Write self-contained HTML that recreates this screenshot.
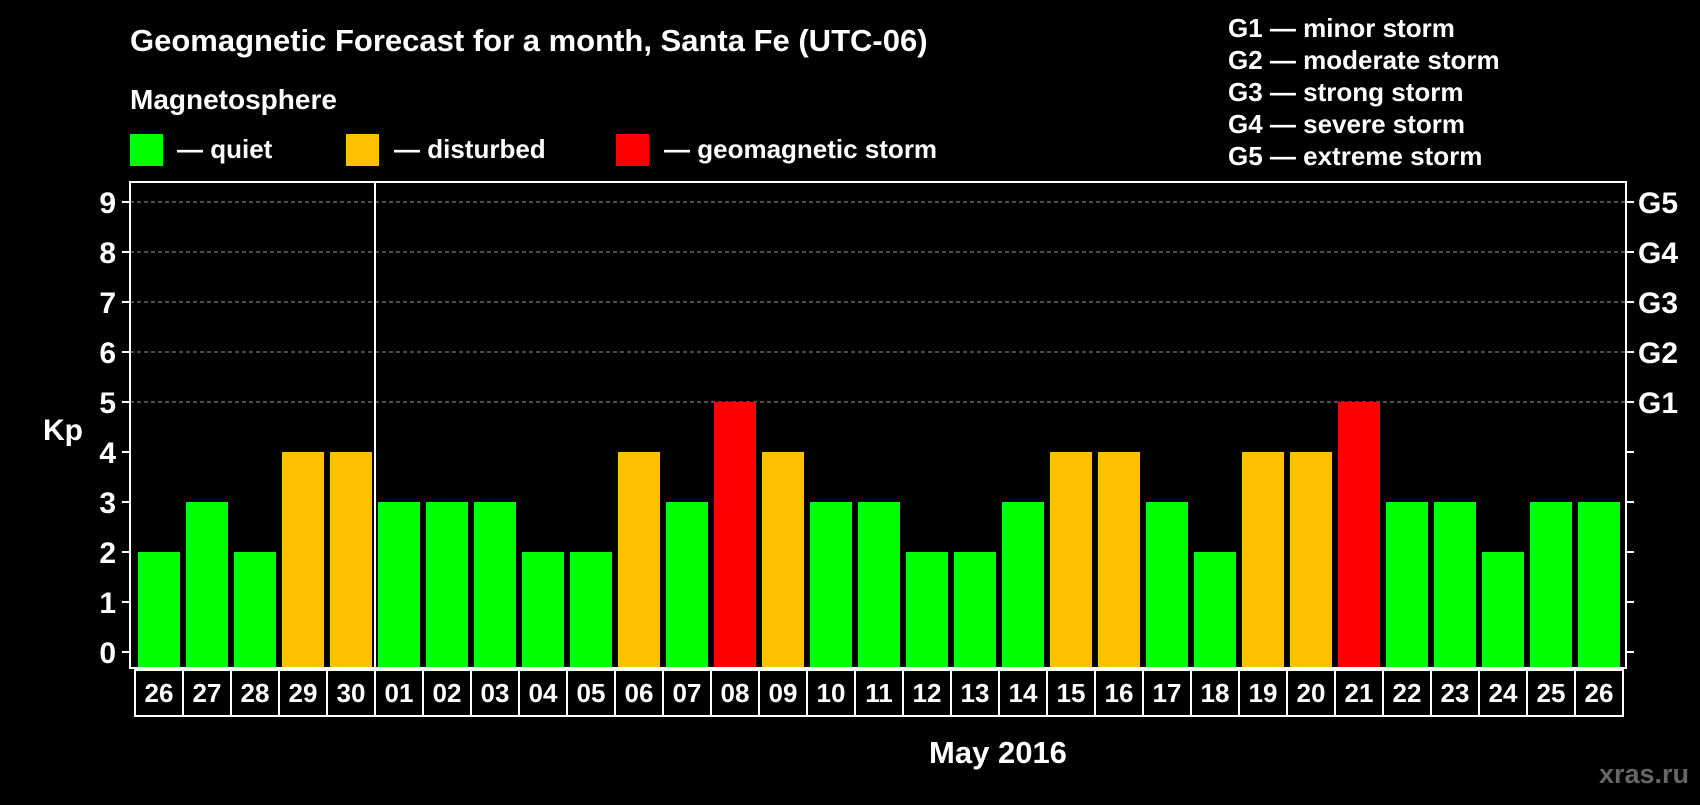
<!DOCTYPE html>
<html><head><meta charset="utf-8"><style>
body{margin:0;background:#000;width:1700px;height:800px;overflow:hidden}
svg{font-family:"Liberation Sans",Arial,sans-serif;font-weight:bold}
</style></head><body>
<svg id="c" width="1700" height="800">
<text x="130" y="51" fill="#fff" font-size="31">Geomagnetic Forecast for a month, Santa Fe (UTC-06)</text>
<text x="130" y="109" fill="#fff" font-size="28">Magnetosphere</text>
<rect x="130" y="134" width="33" height="32" fill="#00ff00"/>
<text x="177" y="158" fill="#fff" font-size="26">— quiet</text>
<rect x="346" y="134" width="33" height="32" fill="#ffc000"/>
<text x="394" y="158" fill="#fff" font-size="26">— disturbed</text>
<rect x="616" y="134" width="33" height="32" fill="#ff0000"/>
<text x="664" y="158" fill="#fff" font-size="26">— geomagnetic storm</text>
<g fill="#fff" font-size="26">
<text x="1228" y="37">G1 — minor storm</text>
<text x="1228" y="69">G2 — moderate storm</text>
<text x="1228" y="101">G3 — strong storm</text>
<text x="1228" y="133">G4 — severe storm</text>
<text x="1228" y="165">G5 — extreme storm</text>
</g>
<text x="63" y="440" fill="#fff" font-size="30" text-anchor="middle">Kp</text>
<text x="998" y="763" fill="#fff" font-size="31" text-anchor="middle">May 2016</text>
<text x="1689" y="783" fill="#666" font-size="27" text-anchor="end">xras.ru</text>
<g id="plot"></g>
</svg>
<script>
const days=["26","27","28","29","30","01","02","03","04","05","06","07","08","09","10","11","12","13","14","15","16","17","18","19","20","21","22","23","24","25","26"];
const kp=[2,3,2,4,4,3,3,3,2,2,4,3,5,4,3,3,2,2,3,4,4,3,2,4,4,5,3,3,2,3,3];
const yTicks=[0,1,2,3,4,5,6,7,8,9];
const gLabels=["G1","G2","G3","G4","G5"];
const NS="http://www.w3.org/2000/svg";
const g=document.getElementById('plot');
const L=130,R=1626,T=182,B=668,x0=135,pitch=48;
const y=v=>652-v*50;
const x=i=>x0+i*pitch;
function mk(t,a){const e=document.createElementNS(NS,t);for(const k in a)e.setAttribute(k,a[k]);g.appendChild(e);return e;}
yTicks.forEach(v=>{
  if(v>=5){const l=mk('line',{x1:L,x2:R,y1:y(v),y2:y(v),stroke:'#999','stroke-dasharray':'4,3','stroke-width':1});
  
  }
  const t1=mk('line',{x1:L-8,x2:L,y1:y(v),y2:y(v),stroke:'#fff','stroke-width':2});
  
  
  const t2=mk('line',{x1:R,x2:R+8,y1:y(v),y2:y(v),stroke:'#fff','stroke-width':2});
  
  
  const tx=mk('text',{x:L-14,y:y(v)+11,fill:'#fff','font-size':30,'text-anchor':'end'});
  tx.textContent=v;
  
  
});
gLabels.forEach((s,i)=>{
  const tx=mk('text',{x:R+12,y:y(5+i)+11,fill:'#fff','font-size':30});
  tx.textContent=s;
  
  
});
const col=v=>v>=5?'#ff0000':(v>=4?'#ffc000':'#00ff00');
kp.forEach((v,i)=>{
  const r=mk('rect',{x:x(i)+3,y:y(v),width:42,height:B-y(v),fill:col(v)});
  
  
  const c=mk('rect',{x:x(i),y:B+2,width:pitch,height:46,fill:'none',stroke:'#fff','stroke-width':2});
  
  
  const t=mk('text',{x:x(i)+pitch/2,y:B+34,fill:'#fff','font-size':26,'text-anchor':'middle'});
  t.textContent=days[i];
  
  
});
const fr=mk('rect',{x:L,y:T,width:R-L,height:B-T,fill:'none',stroke:'#fff','stroke-width':2});


const sep=mk('line',{x1:x(5),x2:x(5),y1:T,y2:B+48,stroke:'#fff','stroke-width':2});


</script>
</body></html>
